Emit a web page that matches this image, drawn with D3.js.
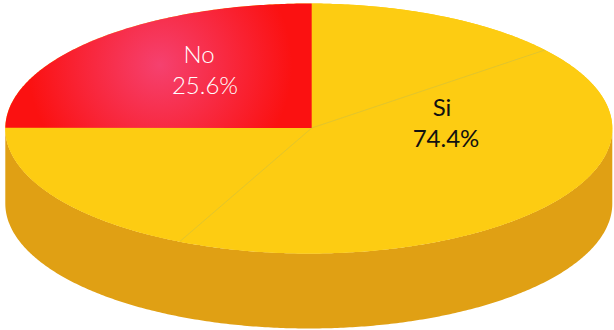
<!DOCTYPE html>
<html>
<head>
<meta charset="utf-8">
<script src="https://cdn.jsdelivr.net/npm/d3@7"></script>
<style>
  html, body { margin: 0; padding: 0; background: #fff; }
  svg { display: block; }
  text { font-family: Lato, "Open Sans", sans-serif; }
</style>
</head>
<body>
<svg id="chart"></svg>
<script>
// shares as they are drawn in the picture (Si is split in 3 wedges by thin seams)
const sliceNames = ["Si", "Si", "Si", "No"];
const sliceShares = [14.04, 42.8, 18.09, 25.07];

const labelNames = ["No", "Si"];
const labelValues = ["25.6%", "74.4%"];

let width = 614;
let height = 330;

let svg = d3.select("#chart")
  .attr("width", width)
  .attr("height", height);

// the disc, in pixels
let cx = 308.8, cy = 128.5, rx = 303.5, ry = 125, depth = 75;
// the wedges meet a bit off centre
let apex = [311.7, 128];

let xScale = d3.scaleLinear().domain([-1, 1]).range([cx - rx, cx + rx]);
let yScale = d3.scaleLinear().domain([-1, 1]).range([cy - ry, cy + ry]);

function rimPoint(a, dy = 0) {
  return [xScale(Math.sin(a)), yScale(-Math.cos(a)) + dy];
}

let line = d3.line();

function rimPoints(a0, a1, dy = 0) {
  let n = Math.max(2, Math.ceil(Math.abs(a1 - a0) / 0.01));
  return d3.range(n + 1).map(i => rimPoint(a0 + (a1 - a0) * i / n, dy));
}

let defs = svg.append("defs");
let grad = defs.append("radialGradient")
  .attr("id", "redGlow")
  .attr("gradientUnits", "userSpaceOnUse")
  .attr("cx", 160).attr("cy", 65).attr("r", 132);
grad.append("stop").attr("offset", "0%").attr("stop-color", "#f5416f");
grad.append("stop").attr("offset", "100%").attr("stop-color", "#fb1111");

// side wall
let wall = rimPoints(Math.PI / 2, 3 * Math.PI / 2, depth)
  .concat(rimPoints(3 * Math.PI / 2, Math.PI / 2));
svg.append("path")
  .attr("d", line(wall) + "Z")
  .attr("fill", "#e0a014");

// full top, so no gaps show between wedges
svg.append("path")
  .attr("d", line(rimPoints(0, 2 * Math.PI)) + "Z")
  .attr("fill", "#fdcc12");

let pie = d3.pie()
  .sort(null)
  .startAngle(0.55 * Math.PI / 180)
  .endAngle(2 * Math.PI + 0.55 * Math.PI / 180);
let arcs = pie(sliceShares);

svg.append("g").selectAll("path")
  .data(arcs)
  .enter()
  .append("path")
    .attr("d", d => line([apex].concat(rimPoints(d.startAngle, d.endAngle))) + "Z")
    .attr("fill", (d, i) => sliceNames[i] === "No" ? "url(#redGlow)" : "#fdcc12");

// seams between the yellow wedges
svg.append("g").selectAll("line")
  .data(arcs.slice(0, 2))
  .enter()
  .append("line")
    .attr("x1", apex[0])
    .attr("y1", apex[1])
    .attr("x2", d => rimPoint(d.endAngle)[0])
    .attr("y2", d => rimPoint(d.endAngle)[1])
    .attr("stroke", "#a9b56a")
    .attr("stroke-opacity", 0.55)
    .attr("stroke-width", 0.6);

// labels
let labelX = [[199, 205], [442, 446]];
let labelY = [[63, 94], [116, 147]];
let labelColor = ["#ffffff", "#111111"];
let labelWeight = [300, 400];

labelNames.forEach((name, i) => {
  let g = svg.append("g")
    .attr("fill", labelColor[i])
    .attr("text-anchor", "middle")
    .attr("font-size", 24)
    .attr("font-weight", labelWeight[i]);
  g.append("text").attr("x", labelX[i][0]).attr("y", labelY[i][0]).text(name);
  g.append("text").attr("x", labelX[i][1]).attr("y", labelY[i][1]).text(labelValues[i]);
});
</script>
</body>
</html>
